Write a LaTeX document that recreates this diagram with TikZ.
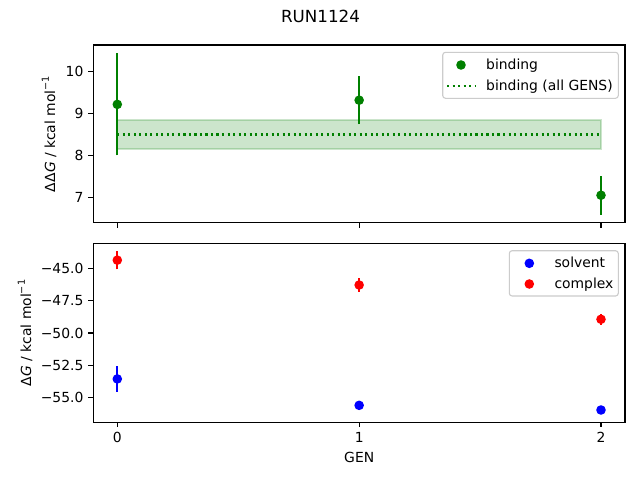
\documentclass[tikz,border=0pt]{standalone}
\usepackage{fontspec}
\setmainfont{DejaVu Sans}
\usetikzlibrary{positioning}
\definecolor{mplgreen}{HTML}{008000}
\definecolor{mplblue}{HTML}{0000FF}
\definecolor{mplred}{HTML}{FF0000}

\begin{document}
\begin{tikzpicture}[x=1pt,y=-1pt,
    spine/.style={draw=black,line width=1.1pt},
    tick/.style={line width=1.1pt},
    ticklabel/.style={font=\fontsize{13.9}{16}\selectfont,inner sep=0pt},
    axlabel/.style={font=\fontsize{13.9}{16}\selectfont,inner sep=0pt},
    errbar/.style={line width=2.08pt},
    dot/.style={circle,fill,inner sep=0pt,minimum size=9.6pt},
    dotline/.style={mplgreen,line width=2.08pt,dash pattern=on 2.08pt off 3.43pt},
    legendbox/.style={draw=black!20,fill=white,fill opacity=0.8,
                      rounded corners=2.8pt,line width=1.1pt}]
  \useasboundingbox (0,0) rectangle (640,480);
  \fill[white] (0,0) rectangle (640,480);

  % title
  \node[inner sep=0pt,font=\fontsize{16.7}{19}\selectfont] (title) at (320.5,16.5) {RUN1124};

  % top panel: binding free energy
  \begin{scope}[shift={(117.3pt,-490.4pt)},x=241.85pt,y=41.87pt]
    \fill[mplgreen,fill opacity=0.2] (0,8.15) rectangle (2,8.85);
    \draw[mplgreen,draw opacity=0.2,line width=1.4pt] (0,8.15) rectangle (2,8.85);
    \draw[dotline] (0,8.5) -- (2,8.5);
    \foreach \g/\v/\e [count=\i] in {0/9.22/1.22, 1/9.32/0.57, 2/7.05/0.47} {
      \draw[errbar,mplgreen] (\g,\v-\e) -- (\g,\v+\e);
      \node[dot,mplgreen] (bind\i) at (\g,\v) {};
    }
  \end{scope}
  \draw[spine] (93.3,45) rectangle (625,222.7);
  \foreach \v/\p in {7/197.3, 8/155.4, 9/113.5, 10/71.7} {
    \draw[tick] (93.3,\p) -- ++(-4.86,0);
    \node[ticklabel,anchor=east] (ytop\v) at (83.6,\p) {\v};
  }
  \foreach \g/\p in {0/117.3, 1/359.2, 2/601} {
    \draw[tick] (\p,222.7) -- ++(0,4.86);
  }
  \node[axlabel,rotate=90] (ylabtop) at (49,134)
    {ΔΔ\textit{G} / kcal mol\raisebox{0.45em}{\fontsize{9.7}{10}\selectfont −1}};

  % legend top
  \draw[legendbox] (442.7,52.3) rectangle (618.3,98.3);
  \node[dot,mplgreen] (legbind) at (461,65) {};
  \draw[dotline] (447,86) -- (475,86);
  \node[ticklabel,anchor=base west] (legbindtext) at (486,69) {binding};
  \node[ticklabel,anchor=base west] (legalltext) at (486,90) {binding (all GENS)};

  % bottom panel: solvent and complex legs
  \begin{scope}[shift={(117.3pt,314.0pt)},x=241.85pt,y=12.94pt]
    \foreach \g/\v/\e [count=\i] in {0/-53.55/1.0, 1/-55.59/0.08, 2/-55.95/0.08} {
      \draw[errbar,mplblue] (\g,\v-\e) -- (\g,\v+\e);
      \node[dot,mplblue] (solv\i) at (\g,\v) {};
    }
    \foreach \g/\v/\e [count=\i] in {0/-44.37/0.71, 1/-46.29/0.51, 2/-48.94/0.42} {
      \draw[errbar,mplred] (\g,\v-\e) -- (\g,\v+\e);
      \node[dot,mplred] (cplx\i) at (\g,\v) {};
    }
  \end{scope}
  \draw[spine] (93.3,243.3) rectangle (625,422.3);
  \foreach \v/\p in {−45.0/268.3, −47.5/300.65, −50.0/333.0, −52.5/365.35, −55.0/397.7} {
    \draw[tick] (93.3,\p) -- ++(-4.86,0);
    \node[ticklabel,anchor=east] at (83.6,\p) {\v};
  }
  \foreach \g/\p in {0/117.3, 1/359.2, 2/601} {
    \draw[tick] (\p,422.3) -- ++(0,4.86);
    \node[ticklabel,anchor=north] (xtick\g) at (\p,432) {\g};
  }
  \node[axlabel,anchor=north] (genlabel) [below=9.4pt of xtick1.south] {GEN};
  \node[axlabel,rotate=90] (ylabbot) at (25,333)
    {Δ\textit{G} / kcal mol\raisebox{0.45em}{\fontsize{9.7}{10}\selectfont −1}};

  % legend bottom
  \draw[legendbox] (509.3,250.7) rectangle (618.3,296);
  \node[dot,mplblue] (legsolv) at (529.3,263.3) {};
  \node[dot,mplred] (legcplx) at (529.3,284) {};
  \node[ticklabel,anchor=base west] (legsolvtext) at (554.3,267.5) {solvent};
  \node[ticklabel,anchor=base west] (legcplxtext) at (554.3,288.2) {complex};
\end{tikzpicture}
\end{document}
